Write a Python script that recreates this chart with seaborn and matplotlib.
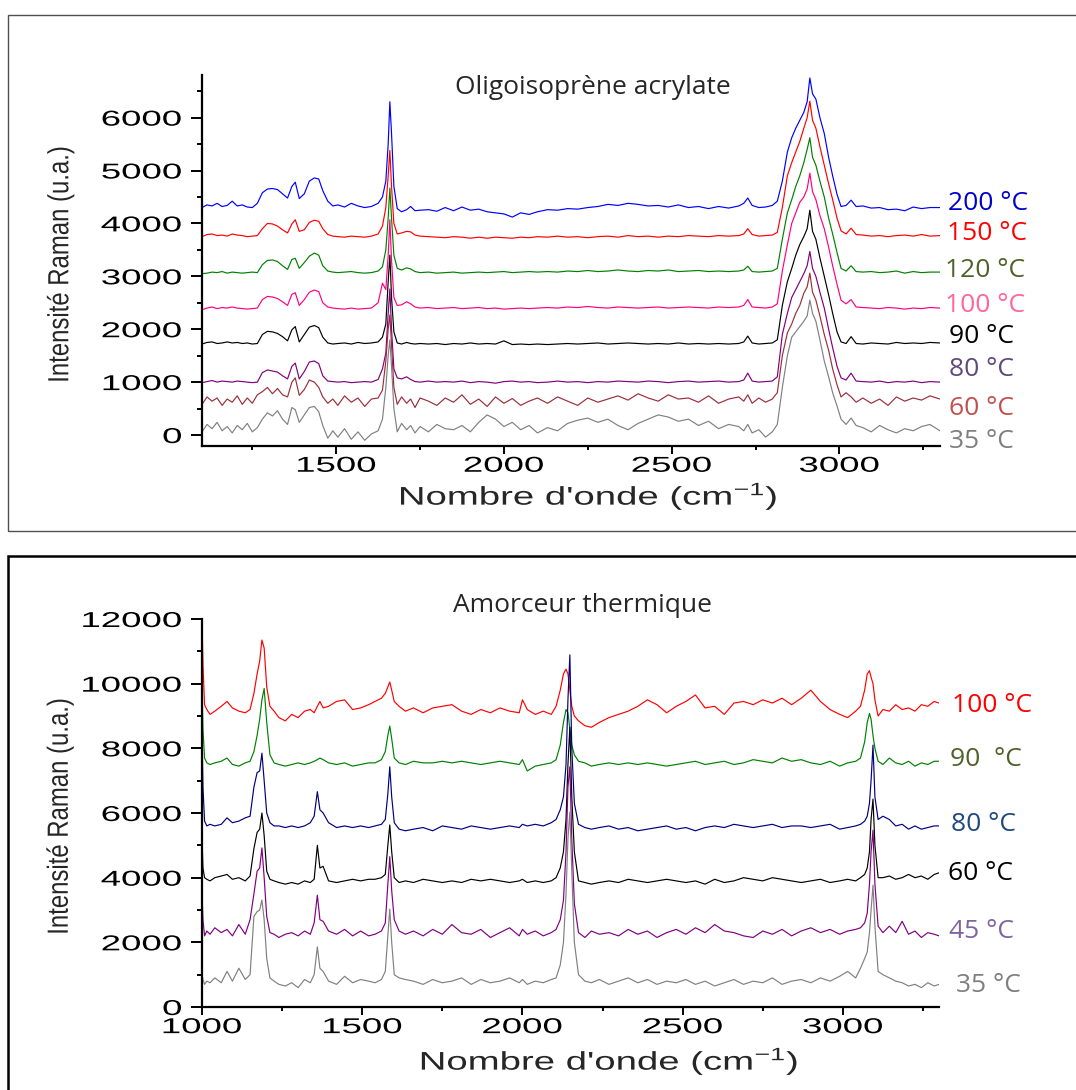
import numpy as np
import pandas as pd
import matplotlib
matplotlib.use('Agg')
import matplotlib.pyplot as plt
import seaborn as sns
from matplotlib.patheffects import AbstractPathEffect
from matplotlib.transforms import Affine2D
from matplotlib.path import Path
from matplotlib.patches import Rectangle
from matplotlib.ticker import MultipleLocator


# ---------------- top panel : Oligoisoprene acrylate ----------------
wn_top = [1100, 1115, 1130, 1145, 1160, 1175, 1190, 1205, 1220, 1235, 1250, 1265,
          1280, 1295, 1310, 1325, 1340, 1355, 1368, 1378, 1390, 1405, 1420, 1435, 1448, 1460, 1475, 1490,
          1505, 1525, 1545, 1565, 1585, 1605, 1625, 1638, 1648, 1655, 1660, 1665, 1672, 1682, 1695, 1710, 1722, 1735, 1750,
          1775, 1800, 1825, 1850, 1875, 1900, 1925, 1950, 1975, 2000, 2025, 2050, 2075, 2100,
          2130, 2160, 2190, 2220, 2250, 2280, 2310, 2340, 2370, 2400, 2430, 2460, 2490, 2520, 2550, 2580, 2610, 2640, 2670, 2700,
          2715, 2727, 2740, 2760, 2780, 2800, 2815, 2830, 2845, 2858, 2870, 2882, 2894, 2904, 2912, 2920, 2930, 2942, 2955, 2968, 2980, 2993, 3005, 3020, 3035, 3050,
          3070, 3095, 3120, 3145, 3170, 3195, 3220, 3245, 3270, 3300]

t200 = [4300, 4350, 4330, 4380, 4320, 4340, 4420, 4330, 4350, 4310, 4300, 4380,
        4580, 4650, 4660, 4640, 4560, 4480, 4700, 4780, 4470, 4560, 4800, 4860, 4840, 4620, 4420, 4330,
        4350, 4310, 4380, 4330, 4300, 4320, 4380, 4500, 4800, 5500, 6300, 5700, 4700, 4280, 4220, 4260, 4320, 4240, 4250,
        4260, 4230, 4300, 4240, 4310, 4250, 4270, 4220, 4200, 4180, 4120, 4200, 4170, 4220,
        4260, 4250, 4280, 4270, 4300, 4320, 4360, 4340, 4380, 4360, 4330, 4340, 4310, 4350, 4300, 4320, 4280, 4320, 4290, 4330,
        4380, 4480, 4340, 4300, 4310, 4340, 4420, 4800, 5350, 5620, 5800, 5950, 6100, 6300, 6750, 6450, 6350, 6000, 5700, 5250, 4900, 4550, 4320, 4340, 4440, 4320,
        4330, 4290, 4300, 4260, 4270, 4240, 4310, 4280, 4300, 4300]
t150 = [3750, 3790, 3800, 3770, 3780, 3760, 3800, 3780, 3770, 3750, 3760, 3770,
        3900, 4000, 3990, 3950, 3880, 3820, 3990, 4070, 3850, 3880, 4020, 4060, 4040, 3900, 3790, 3760,
        3750, 3740, 3760, 3750, 3740, 3760, 3800, 3950, 4300, 4900, 5380, 4700, 4000, 3800, 3820, 3850, 3840, 3780, 3760,
        3750, 3740, 3730, 3750, 3740, 3720, 3740, 3720, 3740, 3730, 3720, 3740, 3730, 3750,
        3740, 3760, 3740, 3750, 3730, 3750, 3760, 3740, 3770, 3750, 3760, 3740, 3760, 3750, 3770, 3760, 3750, 3770, 3760, 3770,
        3800, 3900, 3790, 3760, 3770, 3780, 3830, 4300, 4900, 5150, 5350, 5550, 5800, 6000, 6310, 5950, 5800, 5450, 5100, 4750, 4450, 4100, 3860, 3800, 3910, 3790,
        3780, 3760, 3770, 3750, 3770, 3780, 3760, 3790, 3760, 3770]
t120 = [3050, 3060, 3080, 3070, 3090, 3060, 3080, 3070, 3060, 3070, 3080, 3070,
        3220, 3300, 3310, 3280, 3200, 3130, 3320, 3340, 3150, 3260, 3380, 3440, 3400, 3200, 3100, 3080,
        3070, 3080, 3090, 3070, 3060, 3070, 3100, 3180, 3500, 4100, 4670, 4100, 3400, 3150, 3120, 3160, 3140, 3090, 3070,
        3080, 3060, 3070, 3080, 3060, 3070, 3080, 3070, 3080, 3090, 3070, 3080, 3090, 3080,
        3090, 3080, 3100, 3090, 3110, 3090, 3100, 3120, 3100, 3090, 3110, 3100, 3120, 3090, 3100, 3110, 3090, 3100, 3090, 3100,
        3120, 3190, 3090, 3080, 3090, 3100, 3150, 3700, 4200, 4450, 4700, 4900, 5150, 5400, 5620, 5250, 5100, 4800, 4500, 4100, 3800, 3450, 3150, 3100, 3200, 3090,
        3080, 3090, 3070, 3080, 3100, 3060, 3090, 3070, 3080, 3080]
t100 = [2370, 2400, 2420, 2390, 2410, 2400, 2420, 2400, 2390, 2380, 2390, 2400,
        2560, 2620, 2610, 2580, 2520, 2450, 2660, 2690, 2450, 2560, 2700, 2740, 2710, 2500, 2420, 2400,
        2390, 2380, 2400, 2380, 2390, 2400, 2500, 2870, 2750, 3400, 4070, 3300, 2600, 2450, 2460, 2520, 2480, 2420, 2400,
        2410, 2390, 2400, 2410, 2390, 2400, 2410, 2390, 2400, 2380, 2390, 2400, 2390, 2400,
        2410, 2400, 2420, 2410, 2430, 2410, 2400, 2420, 2410, 2400, 2410, 2420, 2400, 2410, 2420, 2410, 2400, 2420, 2410, 2420,
        2450, 2560, 2420, 2410, 2400, 2420, 2480, 3100, 3600, 4000, 4200, 4400, 4500, 4650, 4950, 4600, 4450, 4150, 3900, 3550, 3200, 2850, 2550, 2480, 2560, 2420,
        2410, 2400, 2390, 2410, 2400, 2380, 2400, 2390, 2410, 2400]
t90 = [1720, 1750, 1760, 1730, 1740, 1760, 1740, 1750, 1730, 1740, 1720, 1730,
       1900, 1960, 1950, 1920, 1860, 1780, 1990, 2050, 1760, 1900, 2040, 2070, 2030, 1850, 1740, 1720,
       1730, 1740, 1720, 1750, 1730, 1740, 1760, 1850, 2100, 2900, 3400, 2600, 1950, 1740, 1720, 1750, 1730, 1720, 1730,
       1720, 1730, 1710, 1730, 1720, 1740, 1720, 1730, 1720, 1780, 1710, 1720, 1710, 1720,
       1710, 1720, 1730, 1720, 1730, 1740, 1720, 1730, 1740, 1730, 1720, 1730, 1720, 1740, 1720, 1730, 1720, 1730, 1720, 1730,
       1760, 1870, 1740, 1720, 1730, 1740, 1800, 2450, 2900, 3150, 3400, 3600, 3750, 3900, 4250, 3850, 3700, 3350, 3000, 2650, 2300, 1950, 1760, 1730, 1860, 1730,
       1720, 1740, 1730, 1720, 1750, 1730, 1740, 1730, 1750, 1740]
t80 = [990, 1010, 1030, 1000, 1020, 1010, 1000, 1020, 1010, 1000, 990, 1000,
       1180, 1230, 1210, 1190, 1120, 1060, 1300, 1360, 1060, 1200, 1380, 1400, 1350, 1120, 1020, 1010,
       1000, 1010, 990, 1000, 1010, 1000, 1050, 1250, 1550, 2300, 2760, 2000, 1250, 1080, 1060, 1100, 1050, 1010, 1000,
       1020, 1000, 1010, 1000, 1020, 990, 1010, 1000, 980, 1010, 1020, 1000, 1010, 990,
       1000, 1020, 1000, 1010, 990, 1010, 1000, 1020, 1010, 1000, 1020, 1010, 990, 1010, 1020, 1000, 1010, 1020, 1000, 1010,
       1040, 1170, 1020, 1000, 1010, 1020, 1100, 1900, 2300, 2600, 2750, 2900, 3050, 3200, 3470, 3150, 3000, 2700, 2400, 2000, 1650, 1300, 1080, 1040, 1170, 1020,
       1010, 1000, 1020, 990, 1010, 1000, 1020, 990, 1010, 1000]
t60 = [580, 720, 640, 700, 560, 680, 620, 740, 580, 700, 600, 760,
       820, 900, 780, 880, 760, 720, 1000, 1080, 750, 860, 1040, 1000, 900, 720, 600, 680,
       560, 740, 620, 700, 540, 680, 700, 850, 1400, 2000, 2270, 1700, 900, 580, 720, 600, 680, 520, 700,
       640, 560, 700, 620, 760, 580, 680, 540, 720, 600, 690, 560, 640, 700,
       600, 720, 640, 560, 700, 620, 680, 740, 660, 780, 700, 640, 760, 680, 700, 620, 740, 600, 680, 720,
       640, 760, 600, 700, 620, 680, 800, 1500, 1930, 2100, 2300, 2450, 2680, 2800, 3060, 2700, 2550, 2250, 1900, 1600, 1250, 950, 720, 800, 720, 620,
       700, 600, 680, 560, 720, 640, 700, 660, 740, 680]
t35 = [60, 200, 120, 240, 80, 160, 40, 180, 100, 220, 60, 140,
       300, 420, 360, 460, 300, 200, 520, 480, 240, 380, 520, 540, 440, 180, -60, 80,
       -40, 120, -80, 60, -100, 20, 80, 300, 900, 1500, 1800, 1300, 500, 60, 220, 100, 180, 40, 160,
       60, 200, 120, 100, 180, 60, 240, 380, 300, 160, 240, 100, 180, 40,
       140, 80, 220, 280, 320, 240, 300, 180, 100, 220, 300, 380, 340, 260, 300, 180, 260, 120, 200, 160,
       80, 200, 40, 100, -40, 60, 200, 900, 1500, 1850, 1950, 2050, 2150, 2250, 2550, 2300, 2150, 1800, 1400, 1100, 800, 550, 300, 200, 320, 180,
       140, 60, 180, 100, 40, 120, 80, 160, 200, 80]

top_names = ['200 °C', '150 °C', '120 °C', '100 °C', '90 °C', '80 °C', '60 °C', '35 °C']
top_spectra = [t200, t150, t120, t100, t90, t80, t60, t35]
top_title = 'Oligoisoprène acrylate'

# ---------------- bottom panel : Amorceur thermique ----------------
wn_bot = [1000, 1003, 1008, 1015, 1025, 1040, 1060, 1078, 1095, 1115, 1135, 1150, 1162, 1172, 1180, 1187, 1194, 1202, 1212, 1225, 1240,
          1260, 1280, 1300, 1320, 1338, 1350, 1360, 1368, 1378, 1395, 1420, 1445, 1470, 1495, 1520,
          1540, 1560, 1572, 1580, 1586, 1592, 1600, 1615, 1635,
          1660, 1690, 1720, 1750, 1780, 1810, 1840, 1870, 1900, 1930, 1960, 1990, 2000, 2015, 2040, 2065, 2090,
          2105, 2118, 2128, 2136, 2142, 2148, 2154, 2162, 2175, 2195,
          2215, 2240, 2270, 2300, 2330, 2360, 2390, 2420, 2450, 2480, 2510, 2540, 2570, 2600, 2630, 2660, 2690, 2720, 2750, 2780, 2810, 2840, 2870, 2900, 2930, 2960, 2990, 3015, 3040,
          3055, 3068, 3076, 3083, 3088, 3094, 3100, 3110, 3125,
          3145, 3165, 3185, 3205, 3225, 3245, 3265, 3285, 3300]

b100 = [12000, 10600, 9350, 9200, 9050, 9150, 9300, 9450, 9250, 9150, 9100, 9200, 9700, 10300, 10700, 11350, 11100, 9900, 9300, 9150, 8950,
        8850, 9050, 8950, 9150, 9200, 9100, 9300, 9450, 9250, 9300, 9450, 9500, 9200, 9250, 9350,
        9450, 9550, 9700, 9900, 10050, 9800, 9450, 9300, 9150,
        9250, 9100, 9250, 9300, 9350, 9150, 9050, 9200, 9100, 9250, 9150, 9100, 9500, 9200, 9050, 9150, 9050,
        9300, 9800, 10300, 10450, 10300, 9800, 9300, 9000, 8850, 8700,
        8650, 8800, 8950, 9050, 9150, 9300, 9500, 9350, 9100, 9300, 9450, 9650, 9250, 9300, 9050, 9400, 9450, 9350, 9500, 9400, 9550, 9350, 9550, 9800, 9450, 9200, 9050, 8950, 9150,
        9300, 9800, 10300, 10400, 10200, 10000, 9500, 9000, 9200,
        9150, 9350, 9200, 9250, 9150, 9350, 9300, 9450, 9400]
b90 = [10000, 8600, 7700, 7550, 7500, 7550, 7600, 7700, 7500, 7450, 7550, 7600, 7900, 8400, 8900, 9500, 9850, 8800, 7800, 7550, 7500,
       7450, 7500, 7550, 7500, 7550, 7600, 7650, 7700, 7650, 7550, 7500, 7550, 7450, 7500, 7550,
       7550, 7650, 7900, 8400, 8690, 8300, 7700, 7550, 7500,
       7600, 7550, 7550, 7600, 7550, 7600, 7550, 7500, 7550, 7600, 7550, 7500, 7650, 7300, 7450, 7500, 7550,
       7650, 8100, 8800, 9200, 9100, 8600, 8100, 7800, 7600, 7550,
       7450, 7500, 7550, 7500, 7550, 7500, 7550, 7500, 7450, 7500, 7550, 7600, 7500, 7550, 7600, 7500, 7550, 7650, 7600, 7550, 7700, 7600, 7650, 7550, 7500, 7600, 7450, 7550, 7600,
       7700, 8200, 8800, 9080, 8900, 8400, 8000, 7600, 7500,
       7700, 7550, 7500, 7600, 7450, 7550, 7500, 7600, 7600]
b80 = [8500, 6800, 5750, 5600, 5650, 5600, 5650, 5850, 5700, 5750, 5850, 5900, 6800, 7250, 7300, 7850, 7000, 6000, 5700, 5600, 5600,
       5550, 5600, 5550, 5600, 5700, 5900, 6660, 6100, 6000, 5700, 5550, 5600, 5550, 5600, 5550,
       5600, 5650, 5800, 6600, 7430, 6500, 5700, 5500, 5450,
       5500, 5550, 5450, 5600, 5550, 5500, 5600, 5550, 5500, 5550, 5600, 5550, 5650, 5600, 5650, 5600, 5700,
       5800, 6100, 6500, 7500, 9500, 10890, 8000, 6300, 5650, 5550,
       5500, 5550, 5600, 5500, 5550, 5450, 5500, 5550, 5600, 5500, 5550, 5450, 5550, 5600, 5550, 5650, 5600, 5550, 5600, 5650, 5550, 5600, 5600, 5550, 5600, 5650, 5500, 5550, 5600,
       5650, 5750, 5900, 6300, 7000, 8100, 6500, 5800, 5900,
       5800, 5600, 5650, 5500, 5600, 5500, 5550, 5600, 5600]
b60 = [5200, 4300, 4000, 3950, 3900, 4000, 4050, 4100, 3950, 4000, 3900, 4050, 4900, 5400, 5500, 6000, 5300, 4200, 3950, 3900, 3850,
       3800, 3850, 3800, 3900, 3850, 3950, 5000, 4300, 4350, 3900, 3850, 3900, 3950, 3900, 3950,
       3950, 4000, 4100, 5000, 5630, 4800, 4000, 3850, 3900,
       3850, 3950, 3900, 3850, 3900, 3850, 3950, 3900, 3950, 3900, 3850, 3900, 3950, 3850, 3900, 3850, 3900,
       4000, 4300, 4800, 5800, 7500, 8650, 6500, 4800, 3900, 3850,
       3800, 3850, 3900, 3850, 3950, 3900, 3850, 3900, 3950, 3900, 3850, 3900, 3800, 3950, 3850, 3900, 4000, 3950, 3900, 4000, 3950, 3900, 3850, 3900, 3950, 3850, 3900, 3950, 3900,
       4000, 4100, 4300, 4800, 5800, 6430, 5000, 4000, 4000,
       4050, 3950, 4000, 4100, 4000, 4050, 3950, 4100, 4150]
b45 = [3600, 2700, 2200, 2350, 2250, 2450, 2300, 2400, 2200, 2550, 2250, 2700, 3500, 4200, 4300, 4920, 4000, 2800, 2300, 2250, 2150,
       2250, 2300, 2200, 2350, 2250, 2600, 3460, 2700, 2650, 2350, 2250, 2400, 2200, 2350, 2200,
       2250, 2350, 2600, 3800, 4650, 3600, 2700, 2350, 2250,
       2350, 2200, 2400, 2250, 2550, 2300, 2250, 2400, 2150, 2300, 2450, 2200, 2400, 2250, 2350, 2200, 2300,
       2400, 2700, 3300, 4800, 6800, 7430, 5200, 3200, 2300, 2150,
       2350, 2250, 2300, 2200, 2400, 2250, 2350, 2150, 2300, 2400, 2250, 2450, 2300, 2550, 2350, 2300, 2200, 2150, 2350, 2250, 2400, 2200, 2350, 2450, 2300, 2400, 2250, 2350, 2400,
       2450, 2600, 2900, 3800, 4800, 5470, 3800, 2500, 2300,
       2500, 2300, 2650, 2250, 2350, 2150, 2300, 2250, 2200]
b35 = [1000, 850, 700, 800, 750, 900, 750, 1100, 800, 1200, 850, 1000, 2800, 2950, 3000, 3310, 2700, 1500, 900, 800, 700,
       650, 750, 600, 850, 750, 1000, 1860, 1200, 1100, 800, 700, 950, 750, 850, 800,
       750, 850, 1100, 2200, 3030, 2000, 1000, 900, 850,
       800, 700, 850, 750, 800, 900, 700, 850, 750, 800, 900, 750, 850, 700, 800, 750, 850,
       900, 1300, 2000, 3500, 5200, 6030, 4200, 2000, 1000, 800,
       750, 850, 700, 800, 900, 750, 850, 700, 800, 750, 850, 700, 800, 650, 750, 850, 700, 800, 750, 900, 700, 800, 850, 750, 900, 800, 950, 1100, 900,
       1200, 1500, 1700, 2300, 3000, 3770, 2500, 1100, 1000,
       900, 800, 750, 650, 700, 600, 750, 650, 700]

bot_names = ['100 °C', '90  °C', '80 °C', '60 °C', '45 °C', '35 °C']
bot_spectra = [b100, b90, b80, b60, b45, b35]
bot_title = 'Amorceur thermique'

ylab = 'Intensité Raman (u.a.)'
xlab = r"Nombre d'onde (cm$^{\mathregular{-1}}$)"

# colours
top_line_colors = ['#0000FF', '#FF0000', '#008000', '#FF0080', '#000000', '#800080', '#9B2D3A', '#808080']
top_text_colors = ['#0000CC', '#FF0000', '#4F6228', '#FF6699', '#000000', '#5F497A', '#C0504D', '#7F7F7F']
bot_line_colors = ['#FF0000', '#008000', '#000080', '#000000', '#800080', '#808080']
bot_text_colors = ['#FF0000', '#4F6228', '#1F497D', '#000000', '#8064A2', '#7F7F7F']


class Stretch(AbstractPathEffect):
    # widen / narrow glyphs along the reading direction (the source figure was stretched)
    def __init__(self, sx, anchor=0.5):
        super().__init__()
        self.sx = sx
        self.anchor = anchor

    def draw_path(self, renderer, gc, tpath, affine, rgbFace=None):
        v = tpath.vertices
        if tpath.codes is not None:
            v = v[tpath.codes != Path.CLOSEPOLY]
        x0 = 0.0
        if len(v):
            x0 = v[:, 0].min() + self.anchor * np.ptp(v[:, 0])
        t = Affine2D().translate(-x0, 0).scale(self.sx, 1).translate(x0, 0) + affine
        renderer.draw_path(gc, tpath, t, rgbFace)


sns.set_theme(style='ticks')
plt.rcParams['font.family'] = ['Liberation Sans', 'DejaVu Sans']
plt.rcParams['mathtext.fontset'] = 'custom'
plt.rcParams['mathtext.rm'] = 'Liberation Sans'
plt.rcParams['mathtext.default'] = 'regular'

W, H = 1076, 1090
fig = plt.figure(figsize=(W / 100, H / 100), dpi=100)

# panel frames
fig.add_artist(Rectangle((8 / W, 1 - 531 / H), 1.2, (531 - 15) / H, transform=fig.transFigure,
                         fill=False, edgecolor='#505050', lw=1.0, zorder=0))
fig.add_artist(Rectangle((8 / W, -0.05), 1.2, 0.05 + 1 - 556 / H, transform=fig.transFigure,
                         fill=False, edgecolor='black', lw=1.8, zorder=0))

ax1 = fig.add_axes([202 / W, 1 - 445.6 / H, 738 / W, 370.3 / H])
ax2 = fig.add_axes([202 / W, 1 - 1007 / H, 737 / W, 388 / H])


def draw_panel(ax, wn, spectra, names, colors):
    df = pd.DataFrame({
        'wn': np.tile(wn, len(spectra)),
        'I': np.concatenate([np.asarray(s, dtype=float) for s in spectra]),
        'T': np.repeat(names, len(wn)),
    })
    sns.lineplot(data=df, x='wn', y='I', hue='T', hue_order=names,
                 palette=dict(zip(names, colors)), estimator=None, sort=False,
                 legend=False, lw=0.85, ax=ax)


draw_panel(ax1, wn_top, top_spectra, top_names, top_line_colors)
draw_panel(ax2, wn_bot, bot_spectra, bot_names, bot_line_colors)

ax1.set_xlim(1100, 3300)
ax1.set_ylim(-200, 6800)
ax1.xaxis.set_major_locator(MultipleLocator(500))
ax1.xaxis.set_minor_locator(MultipleLocator(250))
ax1.yaxis.set_major_locator(MultipleLocator(1000))
ax1.yaxis.set_minor_locator(MultipleLocator(500))

ax2.set_xlim(1000, 3300)
ax2.set_ylim(0, 12000)
ax2.xaxis.set_major_locator(MultipleLocator(500))
ax2.xaxis.set_minor_locator(MultipleLocator(250))
ax2.yaxis.set_major_locator(MultipleLocator(2000))
ax2.yaxis.set_minor_locator(MultipleLocator(1000))

for ax, xlab_pos in [(ax1, (0.523, -0.160)), (ax2, (0.552, -0.162))]:
    sns.despine(ax=ax)
    ax.set_facecolor('none')
    for sp in ['left', 'bottom']:
        ax.spines[sp].set_linewidth(1.6)
        ax.spines[sp].set_color('black')
    ax.tick_params(axis='y', which='major', direction='out', length=7.9, width=1.4, pad=6.5,
                   labelsize=15.5, color='black', labelcolor='black')
    ax.tick_params(axis='y', which='minor', direction='out', length=3.6, width=1.4, color='black')
    ax.tick_params(axis='x', which='major', direction='out', length=5.8, width=1.4, pad=1.5,
                   labelsize=15.5, color='black', labelcolor='black')
    ax.tick_params(axis='x', which='minor', direction='out', length=2.9, width=1.4, color='black')
    for lab in ax.get_yticklabels():
        lab.set_path_effects([Stretch(1.7, anchor=1.0)])
    for lab in ax.get_xticklabels():
        lab.set_path_effects([Stretch(1.7, anchor=0.5)])

    ax.set_ylabel(ylab, fontsize=21)
    ax.yaxis.label.set_va('center')
    ax.yaxis.label.set_path_effects([Stretch(0.82)])
    ax.set_xlabel(xlab, fontsize=18.4)
    ax.xaxis.label.set_va('baseline')
    ax.xaxis.label.set_path_effects([Stretch(1.5)])
    ax.xaxis.set_label_coords(*xlab_pos)

ax1.yaxis.set_label_coords(-0.192, 0.488)
ax2.yaxis.set_label_coords(-0.193, 0.49)

# titles
title_font = ['Open Sans', 'DejaVu Sans']
fig.text(593 / W, 1 - 94 / H, top_title, ha='center', va='baseline', fontsize=19, family=title_font)
fig.text(582.5 / W, 1 - 612 / H, bot_title, ha='center', va='baseline', fontsize=19, family=title_font)

# temperature labels at the right of each spectrum
top_lab_x = [948, 947, 945, 945, 949, 949, 949, 949]
top_lab_y = [210, 240, 277, 312, 343, 376, 415, 448]
for name, c, px, py in zip(top_names, top_text_colors, top_lab_x, top_lab_y):
    fig.text(px / W, 1 - py / H, name, color=c, ha='left', va='baseline', fontsize=19, family=title_font)

bot_lab_x = [952, 950, 951, 948, 949, 956]
bot_lab_y = [712, 766, 831, 880, 938, 992]
for name, c, px, py in zip(bot_names, bot_text_colors, bot_lab_x, bot_lab_y):
    fig.text(px / W, 1 - py / H, name, color=c, ha='left', va='baseline', fontsize=19, family=title_font)

fig.savefig('out.png', dpi=100, facecolor='white')
